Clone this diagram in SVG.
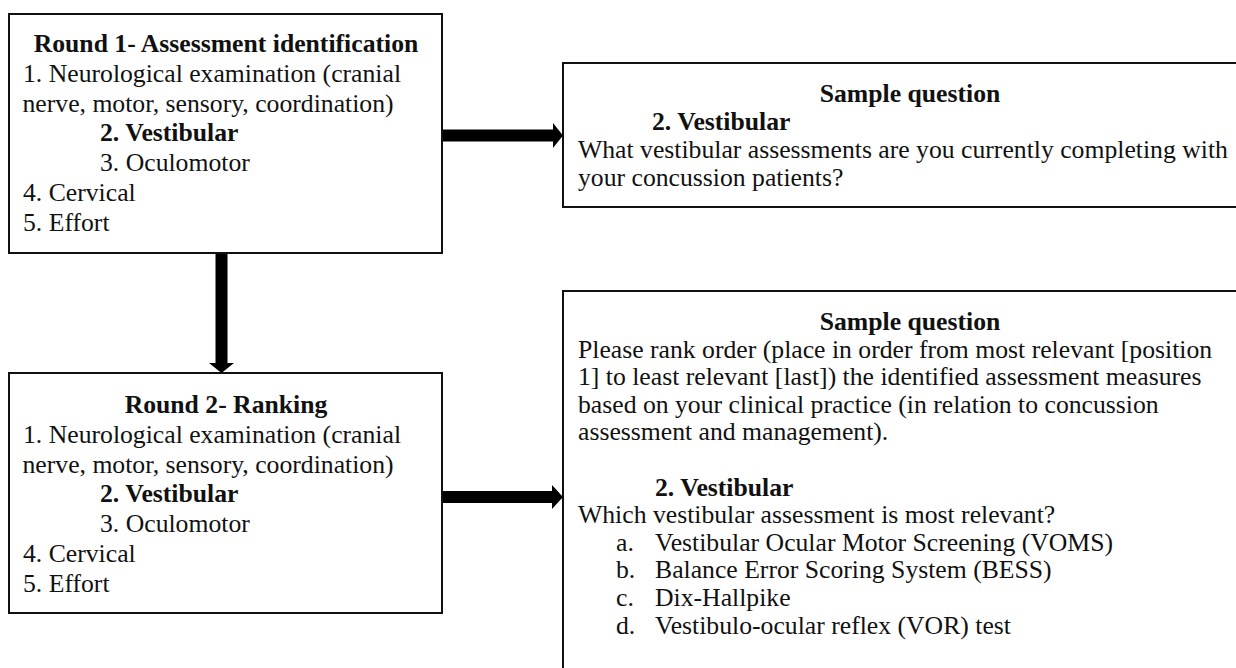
<svg xmlns="http://www.w3.org/2000/svg" width="1236" height="668" viewBox="0 0 1236 668">
<style>
.box{fill:#fff;stroke:#111;stroke-width:2}
text{font-family:"Liberation Serif",Tinos,"Times New Roman","Noto Serif","DejaVu Serif",FreeSerif,serif;font-size:25.7px;fill:#111}
.b{font-weight:bold}
.c{text-anchor:middle}
.arr{fill:#000}
</style>
<rect width="1236" height="668" fill="#fff"/>
<g id="round1">
<rect class="box" x="9" y="14" width="433" height="239"/>
<text class="b c" x="226" y="52.3">Round 1- Assessment identification</text>
<text x="23" y="82">1. Neurological examination (cranial</text>
<text x="22.5" y="111.7">nerve, motor, sensory, coordination)</text>
<text class="b" x="100" y="141.4">2. Vestibular</text>
<text x="100" y="171.1">3. Oculomotor</text>
<text x="23" y="200.8">4. Cervical</text>
<text x="23" y="230.5">5. Effort</text>
</g>
<g id="round2">
<rect class="box" x="9" y="373" width="433" height="240"/>
<text class="b c" x="226" y="413.3">Round 2- Ranking</text>
<text x="23" y="443">1. Neurological examination (cranial</text>
<text x="22.5" y="472.7">nerve, motor, sensory, coordination)</text>
<text class="b" x="100" y="502.4">2. Vestibular</text>
<text x="100" y="532.1">3. Oculomotor</text>
<text x="23" y="561.8">4. Cervical</text>
<text x="23" y="591.5">5. Effort</text>
</g>
<g id="sample1">
<rect class="box" x="563" y="63" width="720" height="144"/>
<text class="b c" x="910" y="102">Sample question</text>
<text class="b" x="652" y="130">2. Vestibular</text>
<text x="578" y="158">What vestibular assessments are you currently completing with</text>
<text x="578" y="185.5">your concussion patients?</text>
</g>
<g id="sample2">
<rect class="box" x="563" y="291" width="720" height="420"/>
<text class="b c" x="910" y="330">Sample question</text>
<text x="578" y="357.6">Please rank order (place in order from most relevant [position</text>
<text x="578" y="385.2">1] to least relevant [last]) the identified assessment measures</text>
<text x="578" y="412.8">based on your clinical practice (in relation to concussion</text>
<text x="578" y="440.4">assessment and management).</text>
<text class="b" x="655" y="495.6">2. Vestibular</text>
<text x="578" y="523.2">Which vestibular assessment is most relevant?</text>
<text x="616" y="550.8">a.</text><text x="655" y="550.8">Vestibular Ocular Motor Screening (VOMS)</text>
<text x="616" y="578.4">b.</text><text x="655" y="578.4">Balance Error Scoring System (BESS)</text>
<text x="616" y="606">c.</text><text x="655" y="606">Dix-Hallpike</text>
<text x="616" y="633.6">d.</text><text x="655" y="633.6">Vestibulo-ocular reflex (VOR) test</text>
</g>
<g id="connectors">
<polygon class="arr" points="443,129.5 553,129.5 553,123 563,135.5 553,148 553,141.5 443,141.5"/>
<polygon class="arr" points="443,491 552,491 552,485 563,497 552,509 552,503 443,503"/>
<polygon class="arr" points="215.5,254 227.5,254 227.5,363 234,363 221.5,373 209,363 215.5,363"/>
</g>
</svg>
